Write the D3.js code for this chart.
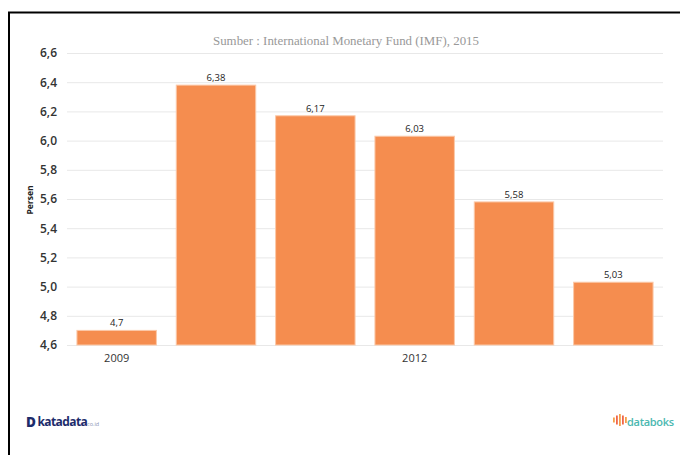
<!DOCTYPE html>
<html><head><meta charset="utf-8">
<script src="https://cdn.jsdelivr.net/npm/d3@7"></script>
<style>body{margin:0;background:#fff}svg{display:block}</style>
</head><body>
<svg id="c" width="680" height="455"></svg>
<script>
const categories = ["2009","2010","2011","2012","2013","2014"];
const values = [4.7, 6.38, 6.17, 6.03, 5.58, 5.03];
const yTicks = [4.6,4.8,5.0,5.2,5.4,5.6,5.8,6.0,6.2,6.4,6.6];
const shownXLabels = ["2009","2012"];
const title = "Sumber : International Monetary Fund (IMF), 2015";
const yTitle = "Persen";

(function(){
const fmt = v => String(v).replace(".", ",");
const fmtTick = v => v.toFixed(1).replace(".", ",");

const svg = d3.select("#c");
// frame
svg.append("line").attr("x1",8).attr("x2",680).attr("y1",12.5).attr("y2",12.5).attr("stroke","#000").attr("stroke-width",2.2);
svg.append("line").attr("x1",9).attr("x2",9).attr("y1",12).attr("y2",455).attr("stroke","#000").attr("stroke-width",2);

const pL = 67, pR = 663, pT = 53, pB = 345;
const x = d3.scaleBand().domain(categories).range([pL, pR]).paddingInner(0.2).paddingOuter(0.1);
const y = d3.scaleLinear().domain([4.6, 6.6]).range([pB, pT]);

// grid
const yAxis = d3.axisLeft(y).tickValues(yTicks).tickFormat(fmtTick).tickSize(-(pR-pL)).tickPadding(10);
const gy = svg.append("g").attr("transform",`translate(${pL},0)`).call(yAxis);
gy.select(".domain").remove();
gy.selectAll(".tick line").attr("stroke","#e8e8e8").attr("stroke-width",1);
gy.selectAll(".tick text").attr("font-family","'Open Sans', sans-serif").attr("font-size",12).attr("font-weight",600).attr("fill","#333");

// bars
svg.append("g").selectAll("rect").data(values).join("rect")
  .attr("x",(d,i)=>x(categories[i])).attr("width",x.bandwidth())
  .attr("y",d=>y(d)).attr("height",d=>y(4.6)-y(d))
  .attr("fill","#f58d4f").attr("stroke","#fbc9a9").attr("stroke-width",1);

// value labels
svg.append("g").selectAll("text").data(values).join("text")
  .attr("x",(d,i)=>x(categories[i])+x.bandwidth()/2).attr("y",d=>y(d)-4)
  .attr("text-anchor","middle").attr("font-family","'Open Sans', sans-serif").attr("font-size",9.5).attr("fill","#222")
  .text(fmt);

// x axis
const xAxis = d3.axisBottom(x).tickSize(0).tickPadding(9).tickFormat(d => shownXLabels.includes(d) ? d : "");
const gx = svg.append("g").attr("transform",`translate(0,${pB})`).call(xAxis);
gx.select(".domain").remove();
gx.selectAll(".tick text").attr("font-family","'Open Sans', sans-serif").attr("font-size",11).attr("fill","#333");

// title
svg.append("text").attr("x",346).attr("y",45).attr("text-anchor","middle")
  .attr("font-family","'Liberation Serif', 'Times New Roman', serif").attr("font-size",12.9).attr("fill","#999").text(title);

// y title
svg.append("text").attr("transform","translate(33,200) rotate(-90)").attr("text-anchor","middle")
  .attr("font-family","'Open Sans', sans-serif").attr("font-size",8.5).attr("font-weight",700).attr("fill","#222").text(yTitle);

// logos
const kg = svg.append("g");
kg.append("text").attr("x",26).attr("y",427).attr("font-family","'Open Sans', sans-serif").attr("font-weight",800).attr("font-size",13.5).attr("fill","#1d2c6b").text("D");
kg.append("text").attr("x",37.5).attr("y",426).attr("font-family","'Open Sans', sans-serif").attr("font-weight",700).attr("font-size",12).attr("fill","#1d2c6b").attr("letter-spacing",-0.6).text("katadata");
kg.append("text").attr("x",87).attr("y",426).attr("font-family","'Open Sans', sans-serif").attr("font-size",5.5).attr("fill","#8a93b5").text("co.id");

const dg = svg.append("g");
const iconX = [613,616,619,622,625];
const iconH = [5,9,12,9,6];
iconX.forEach((ix,i)=>{
  dg.append("rect").attr("x",ix).attr("y",420-iconH[i]/2).attr("width",1.8).attr("height",iconH[i]).attr("fill", i%2? "#f0664a":"#f5a04a");
});
dg.append("text").attr("x",627).attr("y",426).attr("font-family","'Open Sans', sans-serif").attr("font-weight",600).attr("font-size",11).attr("fill","#4bb8b0").attr("letter-spacing",-0.3).text("databoks");
})();
</script>
</body></html>
